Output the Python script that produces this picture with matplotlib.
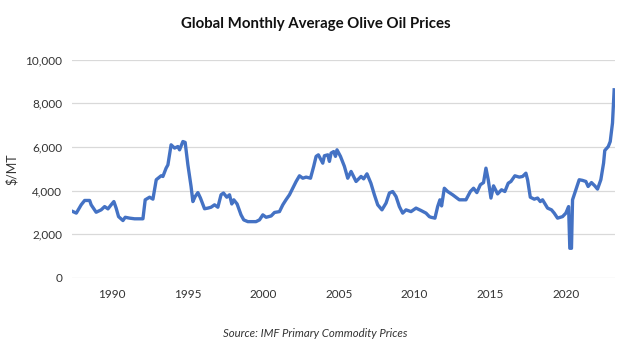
import matplotlib
matplotlib.use("Agg")
import matplotlib.pyplot as plt

# Monthly average olive oil price ($/MT), IMF Primary Commodity Prices
years = [
    1987.43, 1987.65, 1987.97, 1988.20, 1988.53, 1988.63, 1988.96, 1989.29, 1989.52, 1989.74,
    1989.95, 1990.13, 1990.28, 1990.44, 1990.73, 1990.88, 1991.17, 1991.50, 1992.05, 1992.20,
    1992.49, 1992.71, 1992.93, 1993.25, 1993.37, 1993.58, 1993.70, 1993.91, 1994.14, 1994.36,
    1994.47, 1994.69, 1994.84, 1995.02, 1995.23, 1995.35, 1995.50, 1995.68, 1995.85, 1996.12,
    1996.34, 1996.55, 1996.78, 1997.00, 1997.21, 1997.37, 1997.59, 1997.77, 1997.92, 1998.05,
    1998.27, 1998.53, 1998.71, 1998.98, 1999.52, 1999.75, 1999.97, 2000.19, 2000.52, 2000.74,
    2001.07, 2001.29, 2001.50, 2001.73, 2001.95, 2002.17, 2002.39, 2002.61, 2002.83, 2003.12,
    2003.33, 2003.49, 2003.64, 2003.82, 2003.93, 2004.04, 2004.26, 2004.37, 2004.48, 2004.65,
    2004.77, 2004.87, 2005.10, 2005.36, 2005.58, 2005.80, 2006.13, 2006.46, 2006.63, 2006.85,
    2007.11, 2007.34, 2007.56, 2007.84, 2008.11, 2008.33, 2008.55, 2008.77, 2008.99, 2009.21,
    2009.43, 2009.76, 2010.09, 2010.42, 2010.75, 2010.97, 2011.08, 2011.34, 2011.52, 2011.67,
    2011.78, 2011.96, 2012.18, 2012.51, 2012.95, 2013.39, 2013.68, 2013.89, 2014.11, 2014.34,
    2014.55, 2014.71, 2014.86, 2015.04, 2015.21, 2015.48, 2015.74, 2015.96, 2016.18, 2016.36,
    2016.62, 2016.91, 2017.13, 2017.35, 2017.46, 2017.64, 2017.90, 2018.12, 2018.30, 2018.45,
    2018.78, 2019.04, 2019.22, 2019.44, 2019.77, 2019.99, 2020.17, 2020.25, 2020.36, 2020.43,
    2020.65, 2020.87, 2021.09, 2021.31, 2021.46, 2021.68, 2021.90, 2022.08, 2022.30, 2022.48,
    2022.56, 2022.79, 2022.92, 2023.07, 2023.18,
]
prices = [
    3040, 2970, 3350, 3550, 3550, 3350, 3010, 3120, 3270, 3165,
    3350, 3500, 3200, 2810, 2630, 2780, 2740, 2710, 2710, 3580,
    3700, 3610, 4500, 4680, 4650, 5030, 5180, 6100, 5950, 6020,
    5870, 6250, 6210, 5180, 4190, 3500, 3730, 3910, 3660, 3170,
    3200, 3240, 3350, 3240, 3810, 3890, 3700, 3810, 3390, 3580,
    3390, 2890, 2660, 2580, 2580, 2660, 2890, 2780, 2840, 3000,
    3040, 3350, 3580, 3810, 4110, 4420, 4680, 4570, 4620, 4570,
    5110, 5570, 5640, 5410, 5260, 5600, 5640, 5340, 5720, 5790,
    5570, 5870, 5570, 5110, 4570, 4880, 4420, 4650, 4540, 4770,
    4340, 3810, 3350, 3120, 3430, 3890, 3960, 3730, 3270, 2970,
    3120, 3040, 3200, 3090, 2970, 2810, 2780, 2740, 3270, 3580,
    3300, 4110, 3960, 3810, 3580, 3580, 3960, 4110, 3910, 4270,
    4370, 5030, 4500, 3660, 4220, 3850, 4040, 3960, 4340, 4420,
    4680, 4620, 4650, 4800, 4500, 3700, 3610, 3660, 3500, 3580,
    3200, 3120, 2970, 2740, 2810, 2970, 3270, 1360, 1360, 3580,
    4040, 4500, 4470, 4420, 4190, 4370, 4220, 4070, 4500, 5260,
    5840, 6020, 6250, 7100, 8620,
]

y_ticks = [0, 2000, 4000, 6000, 8000, 10000]
x_ticks = [1990, 1995, 2000, 2005, 2010, 2015, 2020]

plt.rcParams['font.family'] = ['Lato', 'DejaVu Sans']

fig = plt.figure(figsize=(6.31, 3.47), dpi=100)
ax = fig.add_axes([0.114, 0.199, 0.861, 0.629])

ax.plot(years, prices, color='#4472C4', linewidth=2.4, solid_joinstyle='round', zorder=3)

ax.set_xlim(1987.36, 2023.25)
ax.set_ylim(0, 10000)
ax.set_yticks(y_ticks)
ax.set_yticklabels([f"{v:,}" for v in y_ticks])
ax.set_xticks(x_ticks)
ax.set_xticklabels([str(v) for v in x_ticks])

ax.grid(axis='y', color='#d9d9d9', linewidth=0.9, zorder=0)
ax.grid(axis='x', visible=False)
for side in ['top', 'right', 'left', 'bottom']:
    ax.spines[side].set_visible(False)
ax.tick_params(axis='both', length=0, labelsize=8.5, colors='#333333')
ax.tick_params(axis='y', pad=7)
ax.tick_params(axis='x', pad=8)

ax.set_ylabel('$/MT', fontsize=9, color='#333333', labelpad=5)

fig.text(0.5, 0.932, 'Global Monthly Average Olive Oil Prices',
         ha='center', va='center', fontsize=10.8, fontweight='bold', color='#111111')
fig.text(0.5, 0.04, 'Source: IMF Primary Commodity Prices',
         ha='center', va='center', fontsize=8.2, style='italic', color='#333333')

fig.savefig('out.png', dpi=100, facecolor='white')
